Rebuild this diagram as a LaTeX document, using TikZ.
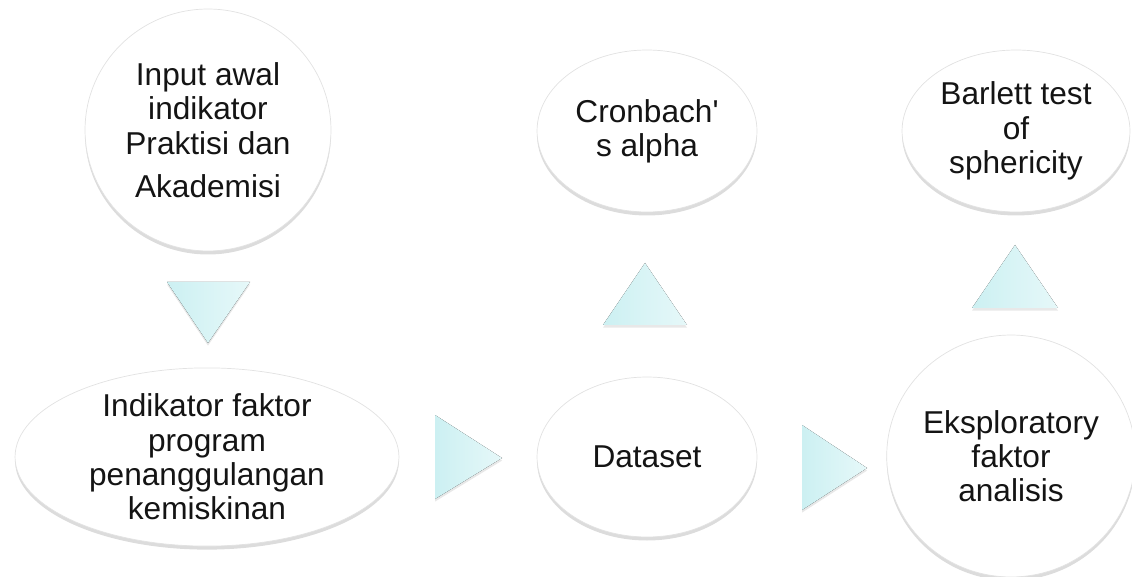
\documentclass[tikz,border=0pt]{standalone}
\usepackage{fontspec}
\setmainfont{Liberation Sans}
\usetikzlibrary{shapes.geometric,shadows}

\definecolor{tricyan}{RGB}{204,240,242}
\definecolor{tricyanlt}{RGB}{230,248,249}
\definecolor{rimgray}{RGB}{226,226,226}
\definecolor{inkgray}{RGB}{20,20,20}

\tikzset{
    bubble/.style={ellipse, draw=rimgray, line width=0.4pt, fill=white,
        align=center, inner sep=0pt, text=inkgray,
        font=\fontsize{18}{19.5}\selectfont,
        drop shadow={shadow xshift=0pt, shadow yshift=-2pt, opacity=0.28}},
    tri/.style={left color=tricyan, right color=tricyanlt,
        drop shadow={shadow xshift=0pt, shadow yshift=-1.5pt, opacity=0.18}}
}

\begin{document}
\begin{tikzpicture}[x=0.02cm, y=-0.02cm]
        \useasboundingbox (0,0) rectangle (1132,577);

        % nodes
        \node[bubble, minimum width=4.92cm, minimum height=4.84cm] (inp) at (208,130)
            {Input awal\\indikator\\Praktisi dan\\[5pt]Akademisi};
        \node[bubble, minimum width=7.68cm, minimum height=3.44cm] (ind) at (207,457)
            {Indikator faktor\\program\\penanggulangan\\kemiskinan};
        \node[bubble, minimum width=4.4cm, minimum height=3.2cm] (dat) at (647,457) {Dataset};
        \node[bubble, minimum width=4.4cm, minimum height=3.24cm] (cro) at (647,131)
            {Cronbach\textquotesingle\\s alpha};
        \node[bubble, minimum width=4.56cm, minimum height=3.24cm] (bar) at (1016,131)
            {Barlett test\\of\\sphericity};
        \node[bubble, minimum width=4.76cm, minimum height=4.84cm] (eks) at (1011,456)
            {Eksploratory\\faktor\\analisis};

        % triangles
        \fill[tri] (167,282) -- (250,282) -- (208,343) -- cycle;
        \fill[tri] (435,415) -- (502,458) -- (435,499) -- cycle;
        \fill[tri] (802,425) -- (867,468) -- (802,510) -- cycle;
        \fill[tri] (603,325) -- (687,325) -- (645,263) -- cycle;
        \fill[tri] (972,308) -- (1058,308) -- (1015,245) -- cycle;

    \end{tikzpicture}
\end{document}
